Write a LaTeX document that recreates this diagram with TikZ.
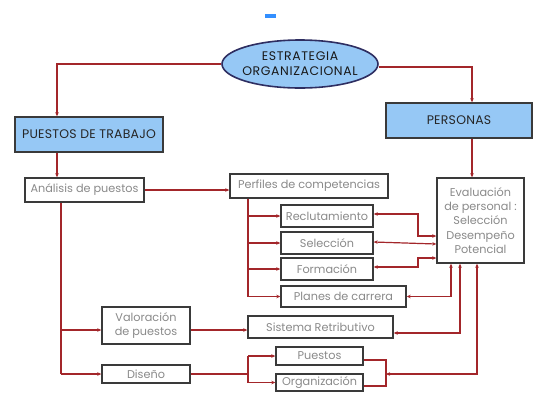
\documentclass[tikz,border=0pt]{standalone}
\usepackage{fontspec}
\setmainfont{Poppins}
\usetikzlibrary{arrows.meta,shapes.geometric}
\definecolor{lnred}{HTML}{A3262A}
\definecolor{bluefill}{HTML}{96C8F5}
\definecolor{txtgray}{HTML}{8A8A8A}
\definecolor{bordr}{HTML}{3A3A3A}
\tikzset{
  gbox/.style={draw=bordr,line width=1.4bp,fill=white,text=txtgray,font=\fontsize{11.3}{12}\selectfont,inner sep=0pt,align=center},
  bbox/.style={draw=bordr,line width=1.4bp,fill=bluefill,text=black!85,font=\fontsize{12.5}{13}\selectfont\addfontfeatures{LetterSpace=2}, inner sep=0pt,align=center},
  conn/.style={draw=lnred,line width=1.2bp,-{Stealth[length=4bp,width=3.5bp]}},
  conn2/.style={draw=lnred,line width=1.2bp,{Stealth[length=4bp,width=3.5bp]}-{Stealth[length=4bp,width=3.5bp]}},
  plain/.style={draw=lnred,line width=1.2bp}
}
\begin{document}
\begin{tikzpicture}[x=1bp,y=-1bp]
\useasboundingbox (0,0) rectangle (538,392);
\fill[white] (0,0) rectangle (538,392);
% small blue mark
\fill[blue!55!cyan!80] (265,14) rectangle (276,18);
% nodes
\node[ellipse,draw=bordr!80!blue,line width=1.6bp,fill=bluefill,minimum width=156bp,minimum height=48bp,inner xsep=-12bp,inner ysep=0pt,align=center,font=\fontsize{12.5}{15}\selectfont\addfontfeatures{LetterSpace=5},text=black!90] (strat) at (300,64) {ESTRATEGIA\\ORGANIZACIONAL};
\node[bbox,minimum width=148bp,minimum height=35bp] (puestos) at (89,134.5) {PUESTOS DE TRABAJO};
\node[bbox,minimum width=146bp,minimum height=35bp] (personas) at (459,120.5) {PERSONAS};
\node[gbox,minimum width=119bp,minimum height=24bp] (analisis) at (84.5,190) {Análisis de puestos};
\node[gbox,minimum width=158bp,minimum height=24bp] (perfiles) at (309,186) {Perfiles de competencias};
\node[gbox,minimum width=92bp,minimum height=22bp] (recl) at (327,216) {Reclutamiento};
\node[gbox,minimum width=92bp,minimum height=22bp] (sel) at (327,243) {Selección};
\node[gbox,minimum width=92bp,minimum height=22bp] (form) at (327,269) {Formación};
\node[gbox,minimum width=125bp,minimum height=21bp] (planes) at (343.5,296.5) {Planes de carrera};
\node[gbox,minimum width=87bp,minimum height=85bp,font=\fontsize{11.3}{14.5}\selectfont] (eval) at (480.5,220.5) {Evaluación\\de personal :\\Selección\\Desempeño\\Potencial};
\node[gbox,minimum width=88bp,minimum height=37bp,font=\fontsize{11.3}{14}\selectfont] (valor) at (146,325.5) {Valoración\\de puestos};
\node[gbox,minimum width=145bp,minimum height=22bp] (sist) at (320.5,327) {Sistema Retributivo};
\node[gbox,minimum width=88bp,minimum height=18bp] (diseno) at (146,374) {Diseño};
\node[gbox,minimum width=87bp,minimum height=18bp] (puestosb) at (319.5,356) {Puestos};
\node[gbox,minimum width=87bp,minimum height=17bp] (org) at (319.5,382.5) {Organización};
% helper coordinates
\coordinate (rx) at (472,0);
\coordinate (lx) at (57,0);
\coordinate (ax) at (61,0);
\coordinate (px) at (248,0);
\coordinate (jx) at (418,0);
\coordinate (kx) at (451,0);
\coordinate (sx) at (460,0);
\coordinate (ox) at (477,0);
\coordinate (bx) at (386,0);
% top connections
\draw[conn] (strat.west) -| (lx |- puestos.north);
\draw[conn] ([yshift=-3bp]strat.east) -| (rx |- personas.north);
\draw[conn] (rx |- personas.south) -- (rx |- eval.north);
\draw[conn] (lx |- puestos.south) -- (lx |- analisis.north);
\draw[conn] (analisis.east) -- (perfiles.west |- analisis.east);
% perfiles branch
\draw[plain] (px |- perfiles.south) -- (px |- planes.west);
\draw[conn] (px |- recl.west) -- (recl.west);
\draw[conn] (px |- sel.west) -- (sel.west);
\draw[conn] (px |- form.west) -- (form.west);
\draw[conn] (px |- planes.west) -- (planes.west);
% to evaluation
\draw[conn2] ([yshift=2bp]recl.east) -| (jx |- 0,236) -- (eval.west |- 0,236);
\draw[conn2] ([yshift=1bp]sel.east) -- (eval.west |- 0,244);
\draw[conn2] ([yshift=2bp]form.east) -| (jx |- 0,258) -- (eval.west |- 0,258);
\draw[conn2] (planes.east) -| (kx |- eval.south);
\draw[conn2] (sx |- eval.south) |- ([yshift=-6bp]sist.east);
\draw[conn2] (ox |- eval.south) |- (bx |- 0,374);
\draw[plain] ([yshift=-4bp]puestosb.east) -| (bx |- 0,386) -- (org.east |- 0,386);
% left column
\draw[plain] (ax |- analisis.south) -- (ax |- diseno.west);
\draw[conn] (ax |- 0,330) -- (valor.west |- 0,330);
\draw[conn] (ax |- diseno.west) -- (diseno.west);
\draw[conn] (valor.east |- 0,330) -- (sist.west |- 0,330);
\draw[plain] (diseno.east) -- (px |- diseno.east);
\draw[plain] (px |- puestosb.west) -- (px |- org.west);
\draw[conn] (px |- puestosb.west) -- (puestosb.west);
\draw[conn] (px |- org.west) -- (org.west);
\end{tikzpicture}
\end{document}
